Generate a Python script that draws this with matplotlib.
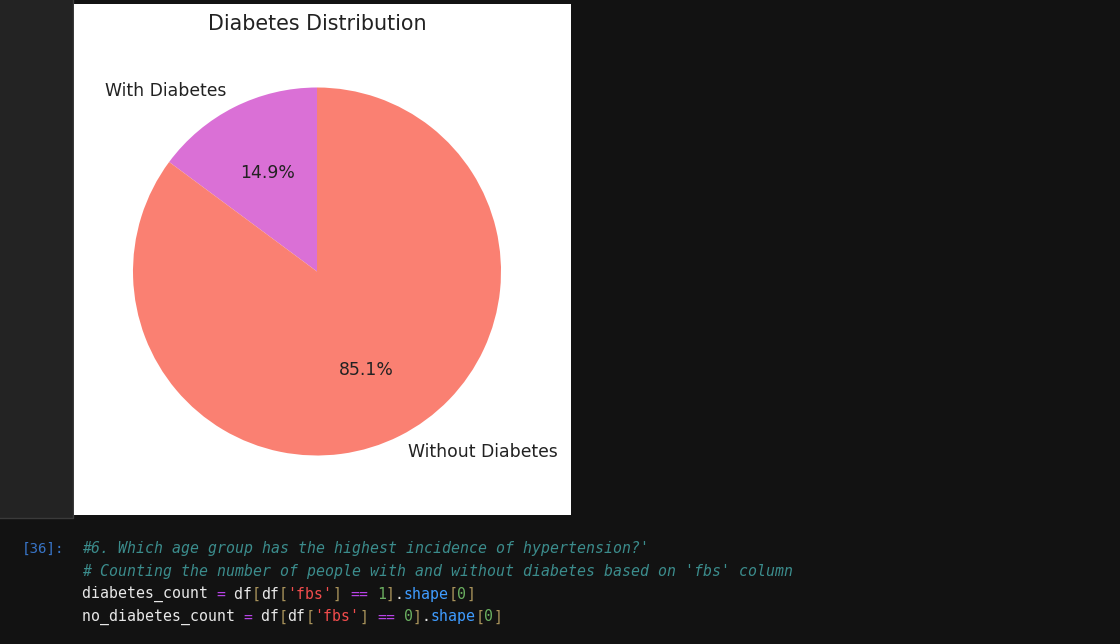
import matplotlib.pyplot as plt
from matplotlib.patches import Rectangle
from matplotlib.lines import Line2D

W, H = 1120, 644

# chart data
labels = ["With Diabetes", "Without Diabetes"]
counts = [45, 258]
slice_colors = ["orchid", "salmon"]
title = "Diabetes Distribution"

# notebook cell text below the output
prompt = "[36]:"
code_lines = [
    [("#6. Which age group has the highest incidence of hypertension?'", "#3b8c8c")],
    [("# Counting the number of people with and without diabetes based on 'fbs' column", "#3b8c8c")],
    [("diabetes_count ", "#e8e8e8"), ("=", "#b743e6"), (" df", "#e8e8e8"), ("[", "#a8925a"),
     ("df", "#e8e8e8"), ("[", "#a8925a"), ("'fbs'", "#f14c4c"), ("]", "#a8925a"), (" ", "#e8e8e8"),
     ("==", "#b743e6"), (" ", "#e8e8e8"), ("1", "#6aaf60"), ("]", "#a8925a"), (".", "#e8e8e8"),
     ("shape", "#3f9cff"), ("[", "#a8925a"), ("0", "#6aaf60"), ("]", "#a8925a")],
    [("no_diabetes_count ", "#e8e8e8"), ("=", "#b743e6"), (" df", "#e8e8e8"), ("[", "#a8925a"),
     ("df", "#e8e8e8"), ("[", "#a8925a"), ("'fbs'", "#f14c4c"), ("]", "#a8925a"), (" ", "#e8e8e8"),
     ("==", "#b743e6"), (" ", "#e8e8e8"), ("0", "#6aaf60"), ("]", "#a8925a"), (".", "#e8e8e8"),
     ("shape", "#3f9cff"), ("[", "#a8925a"), ("0", "#6aaf60"), ("]", "#a8925a")],
]
comment_rows = [0, 1]


def fx(x):
    return x / W


def fy(y):
    return 1 - y / H


fig = plt.figure(figsize=(W / 100, H / 100), dpi=100, facecolor="#121212")

# left gutter of the output area, border only on right and bottom
fig.patches.append(Rectangle((0, fy(518)), fx(73), 518 / H, transform=fig.transFigure,
                             facecolor="#232323", edgecolor="none", zorder=-2))
fig.lines.append(Line2D([0, fx(73), fx(73)], [fy(518), fy(518), 1], transform=fig.transFigure,
                        color="#3a3a3a", linewidth=1, zorder=-1))
# white image of the output
fig.patches.append(Rectangle((fx(74), fy(515)), fx(497), 511 / H, transform=fig.transFigure,
                             facecolor="white", edgecolor="none", zorder=-1))

ax = fig.add_axes([fx(133), fy(456), fx(368), 369 / H])
ax.patch.set_visible(False)
ax.pie(counts, labels=labels, colors=slice_colors, autopct="%1.1f%%", startangle=90,
       textprops={"fontsize": 12.4, "color": "#222222"})
ax.set_xlim(-1, 1)
ax.set_ylim(-1, 1)
ax.set_aspect("equal", adjustable="box")
fig.text(fx(317), fy(24), title, ha="center", va="center", fontsize=14.9, color="#222222")

# code cell
mono = "DejaVu Sans Mono"
char_w = 8.94
fig.text(fx(22), fy(549), prompt, ha="left", va="center", fontsize=10.2,
         family=mono, color="#3875c8")
for row, tokens in enumerate(code_lines):
    y = 549 + row * 22.6
    col = 0
    for tok, c in tokens:
        fig.text(fx(82 + col * char_w), fy(y), tok, ha="left", va="center",
                 fontsize=10.7, family=mono, color=c,
                 style="italic" if row in comment_rows else "normal")
        col += len(tok)

fig.savefig("out.png", dpi=100, facecolor=fig.get_facecolor())
